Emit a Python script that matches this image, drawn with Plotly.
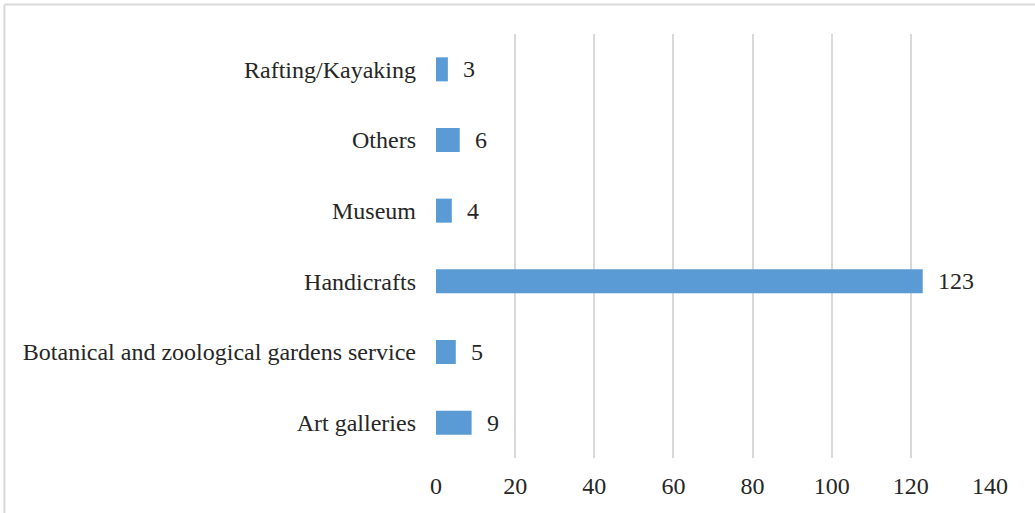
import plotly.graph_objects as go

categories = ["Art galleries", "Botanical and zoological gardens service", "Handicrafts",
              "Museum", "Others", "Rafting/Kayaking"]
values = [9, 5, 123, 4, 6, 3]
x_ticks = [0, 20, 40, 60, 80, 100, 120, 140]

FONT = "Liberation Serif, Times New Roman, serif"
GRID = "#D9D9D9"
TXT = "#262626"

fig = go.Figure(go.Bar(
    x=values, y=categories, orientation="h",
    marker=dict(color="#5B9BD5", line=dict(width=0)),
    width=0.34,
    hoverinfo="x+y",
))

for v, c in zip(values, categories):
    fig.add_annotation(x=v, y=c, xref="x", yref="y", text=str(v), showarrow=False,
                       xanchor="left", xshift=13, font=dict(family=FONT, size=24, color=TXT))

fig.update_layout(
    width=1035, height=513,
    margin=dict(l=436, r=45, t=34, b=55),
    paper_bgcolor="white", plot_bgcolor="white",
    showlegend=False,
    font=dict(family=FONT, size=24, color=TXT),
    xaxis=dict(range=[0, 140], tickvals=x_ticks, ticktext=[str(t) for t in x_ticks],
               showgrid=True, gridcolor=GRID, gridwidth=2, zeroline=False,
               showline=False, ticks="", ticklabelstandoff=11,
               tickfont=dict(family=FONT, size=24, color=TXT)),
    yaxis=dict(categoryorder="array", categoryarray=categories, showgrid=False,
               zeroline=False, showline=False, ticks="", ticklabelstandoff=19,
               tickfont=dict(family=FONT, size=24, color=TXT)),
)

# outer chart border (left and top edges visible)
fig.add_shape(type="line", xref="paper", yref="paper", x0=-0.779, x1=1.2, y0=1.0696, y1=1.0696,
              line=dict(color=GRID, width=2))
fig.add_shape(type="line", xref="paper", yref="paper", x0=-0.779, x1=-0.779, y0=-0.2, y1=1.0696,
              line=dict(color=GRID, width=2))

fig.write_html("out.html", config={"displayModeBar": False},
               post_script="document.body.style.margin='0';document.body.style.overflow='hidden';")
